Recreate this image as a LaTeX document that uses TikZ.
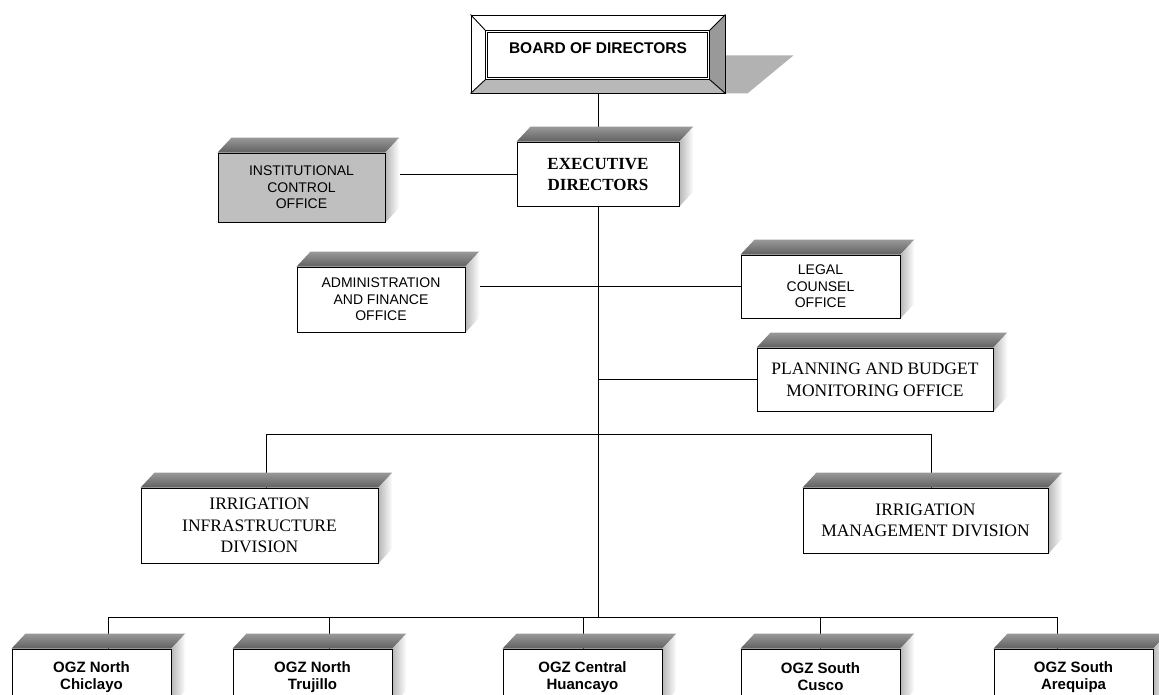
\documentclass[tikz,border=0pt]{standalone}
\usepackage{fontspec}
\setmainfont{Liberation Serif}
\setsansfont{Liberation Sans}
\usetikzlibrary{calc}
\pgfdeclarelayer{links}
\pgfdeclarelayer{faces}
\pgfsetlayers{links,faces,main}

\begin{document}
\begin{tikzpicture}[x=1pt,y=-1pt,line width=0.9pt,
    unit/.style={draw,fill=white,align=center,inner sep=0pt},
    sanslbl/.style={font=\sffamily\fontsize{14}{16.6}\selectfont},
    seriflbl/.style={font=\fontsize{17.5}{21.6}\selectfont},
    ogz/.style={unit,minimum width=159,minimum height=56,font=\sffamily\bfseries\fontsize{15}{17}\selectfont}]
      \useasboundingbox (0,0) rectangle (1159,695);
      \node[draw,minimum width=254,minimum height=78] (board) at (598,54) {};
      \node[font=\sffamily\bfseries\fontsize{15.5}{18}\selectfont] (boardtxt) at ([yshift=6pt]board.center) {BOARD OF DIRECTORS};
      \draw ($(board.north west)+(15,16)$) rectangle ($(board.south east)+(-16,-14)$);
      \draw[line width=0.5pt] ($(board.north west)+(17,18)$) rectangle ($(board.south east)+(-18,-16)$);
      \draw (board.north west) -- ++(15,16) (board.north east) -- ++(-16,16)
            (board.south west) -- ++(15,-14) (board.south east) -- ++(-16,-14);
      \node[unit,minimum width=162,minimum height=64,font=\bfseries\fontsize{17}{21}\selectfont] (exec) at (598,174) {EXECUTIVE\\DIRECTORS};
      \node[unit,sanslbl,fill=black!25,minimum width=167,minimum height=69] (ico) at (301.5,187.5) {INSTITUTIONAL\\CONTROL\\OFFICE};
      \node[unit,sanslbl,minimum width=168,minimum height=65] (admin) at (381,299.5) {ADMINISTRATION\\AND FINANCE\\OFFICE};
      \node[unit,sanslbl,minimum width=159,minimum height=63] (legal) at (820.5,286.5) {LEGAL\\COUNSEL\\OFFICE};
      \node[unit,seriflbl,minimum width=236,minimum height=63] (pbmo) at (875,379.5) {PLANNING AND BUDGET\\MONITORING OFFICE};
      \node[unit,seriflbl,minimum width=237,minimum height=75] (iid) at (259.5,525.5) {IRRIGATION\\INFRASTRUCTURE\\DIVISION};
      \node[unit,seriflbl,minimum width=245,minimum height=65] (imd) at (925.5,520.5) {IRRIGATION\\MANAGEMENT DIVISION};
      \node[ogz] (chic) at (91.5,677) {OGZ North\\Chiclayo};
      \node[ogz] (truj) at (312.5,677) {OGZ North\\Trujillo};
      \node[ogz] (huan) at (582.5,677) {OGZ Central\\Huancayo};
      \node[ogz] (cusco) at (820.5,677) {OGZ South\\Cusco};
      \node[ogz] (areq) at (1073.5,677) {OGZ South\\Arequipa};
      \begin{pgfonlayer}{faces}
        \fill[black!30] ($(board.south east)+(0,-38)$) -- ++(68,0) -- ($(board.south east)+(22,0)$) -- (board.south east) -- cycle;
        \fill[black!28] (board.south west) -- ++(15,-14) -- ($(board.south east)+(-16,-14)$) -- (board.south east) -- cycle;
        \fill[black!40] (board.north east) -- ++(-16,16) -- ($(board.south east)+(-16,-14)$) -- (board.south east) -- cycle;
        \foreach \n in {exec,ico,admin,legal,pbmo,iid,imd,chic,truj,huan,cusco,areq} {
          \shade[top color=black!40,bottom color=black!62] (\n.north west) -- ++(14,-15) -- ($(\n.north east)+(14,-15)$) -- (\n.north east) -- cycle;
          \shade[left color=black!28,right color=white] (\n.north east) -- ++(14,-15) -- ($(\n.south east)+(14,-15)$) -- (\n.south east) -- cycle;
        }
      \end{pgfonlayer}
      \begin{pgfonlayer}{links}
        \coordinate (trunk) at (598,617);
        \coordinate (iidtop) at (266,434);
        \coordinate (imdtop) at (931,434);
        \draw (board.south) -- (exec.north);
        \draw (ico.east |- exec.west) -- (exec.west);
        \draw (exec.south) -- (trunk);
        \draw (admin.east |- legal.west) -- (legal.west);
        \draw (exec.south |- pbmo.west) -- (pbmo.west);
        \draw (iidtop |- iid.north) -- (iidtop) -- (imdtop) -- (imdtop |- imd.north);
        \foreach \n/\x in {chic/108,truj/329,huan/583,cusco/820,areq/1057} {
          \coordinate (d\n) at (\x,617);
          \draw (d\n) -- (d\n |- \n.north);
        }
        \draw (dchic) -- (dareq);
      \end{pgfonlayer}
    \end{tikzpicture}
\end{document}
